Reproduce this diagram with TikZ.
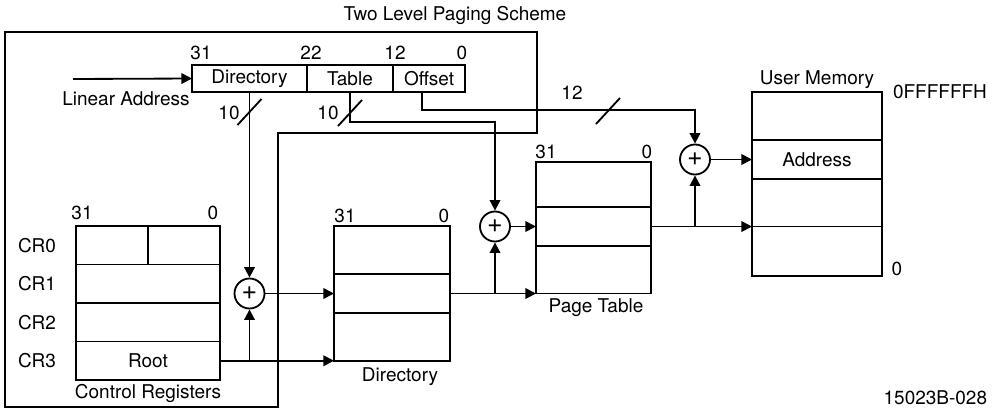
\documentclass[tikz,border=0pt]{standalone}
\usepackage{fontspec}
\setmainfont{TeX Gyre Heros}
\usetikzlibrary{arrows.meta,calc}

\begin{document}
\begin{tikzpicture}[
    x=0.025cm, y=-0.025cm,
    line width=1.3pt,
    every node/.style={font=\fontsize{13.5}{15}\selectfont},
    field/.style={draw,rectangle,minimum height=0.675cm,inner sep=0pt,outer sep=0pt},
    row/.style={draw,rectangle,inner sep=0pt,outer sep=0pt},
    adder/.style={draw,circle,minimum size=0.75cm,inner sep=0pt,font=\fontsize{19}{19}\selectfont},
    arr/.style={-{Triangle[length=7.5pt,width=7.5pt]}}
  ]
  \clip (0,0) rectangle (992,409);

  \node (title) at (455,15) {Two Level Paging Scheme};
  % frame round the linear address and the control registers
  \draw (5,32) -- (537,32) -- (537,133) -- (278,133) -- (278,407) -- (5,407) -- cycle;

  % linear address
  \node[field,minimum width=2.875cm] (dirf) at (249.5,78.5) {Directory};
  \node[field,minimum width=2.15cm,anchor=west] (tabf) at (dirf.east) {Table};
  \node[field,minimum width=1.8cm,anchor=west] (offf) at (tabf.east) {Offset};
  \foreach \x/\b in {201/31, 311/22, 395/12, 462/0}
    \node (la\b) at (\x,53) {\b};
  \coordinate (lin) at (73,79);
  \draw[arr] (lin) -- (dirf.west);
  \node (linlab) at (126,99) {Linear Address};

  % control registers
  \foreach \i in {0,...,3} {
      \node[row,minimum width=3.6cm,minimum height=0.9625cm] (cr\i) at (148,{245.25+38.5*\i}) {};
      \node (crl\i) at (37,{245.25+38.5*\i}) {CR\i};
    }
  \draw (cr0.north) -- (cr0.south);
  \node (root) at (cr3) {Root};
  \node (cr31) at (82,213) {31};
  \node (cr00) at (213,213) {0};
  \node (crlab) at (148,393) {Control Registers};

  % directory
  \node[row,minimum width=2.9cm,minimum height=1.2cm] (dir1) at (392,250) {};
  \node[row,minimum width=2.9cm,minimum height=0.975cm,anchor=north] (dir2) at (dir1.south) {};
  \node[row,minimum width=2.9cm,minimum height=1.2cm,anchor=north] (dir3) at (dir2.south) {};
  \node (dir31) at (345,216) {31};
  \node (dir00) at (444,216) {0};
  \node (dirlab) at (400,377) {Directory};

  % page table
  \node[row,minimum width=2.875cm,minimum height=1.125cm] (pt1) at (593.5,184.5) {};
  \node[row,minimum width=2.875cm,minimum height=0.975cm,anchor=north] (pt2) at (pt1.south) {};
  \node[row,minimum width=2.875cm,minimum height=1.1875cm,anchor=north] (pt3) at (pt2.south) {};
  \node (pt31) at (546,152) {31};
  \node (pt00) at (647,152) {0};
  \node (ptlab) at (596,308) {Page Table};

  % user memory
  \node[row,minimum width=3.25cm,minimum height=1.2cm] (um1) at (817,116) {};
  \node[row,minimum width=3.25cm,minimum height=0.975cm,anchor=north] (um2) at (um1.south) {Address};
  \node[row,minimum width=3.25cm,minimum height=1.1875cm,anchor=north] (um3) at (um2.south) {};
  \node[row,minimum width=3.25cm,minimum height=1.2375cm,anchor=north] (um4) at (um3.south) {};
  \node (umlab) at (817,80) {User Memory};
  \node (umtop) at (940,92) {0FFFFFFH};
  \node (umbot) at (897,269) {0};

  % adders
  \node[adder] (add1) at (249.5,293.5) {+};
  \node[adder] (add2) at (495,226.5) {+};
  \node[adder] (add3) at (695,159.5) {+};

  % connections
  \draw[arr] (dirf.south) -- (add1.north);
  \draw[arr] (tabf.south) -- ++(0,30) -| (add2.north);
  \draw[arr] ([xshift=-0.175cm]offf.south) -- ++(0,18) -| (add3.north);
  \draw[arr] (cr3.east) -- (cr3.east -| dir3.west);
  \draw[arr] (add1.south |- cr3.east) -- (add1.south);
  \draw[arr] (add1.east) -- (add1.east -| dir2.west);
  \draw[arr] (dir2.east) -- (dir2.east -| pt3.west);
  \draw[arr] (add2.south |- dir2.east) -- (add2.south);
  \draw[arr] (add2.east) -- (add2.east -| pt2.west);
  \draw[arr] (pt2.east) -- (pt2.east -| um3.west);
  \draw[arr] (add3.south |- pt2.east) -- (add3.south);
  \draw[arr] (add3.east) -- (add3.east -| um2.west);

  % bus widths
  \foreach \x/\y in {249.5/112, 350/113, 608/111}
    \draw (\x-12,\y+13) -- (\x+12,\y-13);
  \node (w1) at (229,113) {10};
  \node (w2) at (328,113) {10};
  \node (w3) at (572,93) {12};

  \node[anchor=south east,inner sep=0pt] (fig) at (988,406) {15023B-028};
\end{tikzpicture}
\end{document}
